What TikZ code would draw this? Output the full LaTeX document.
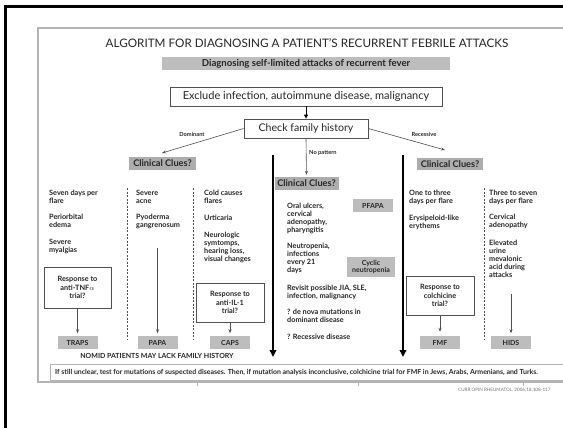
\documentclass[tikz,border=0pt]{standalone}
\usepackage{fontspec}
\setmainfont{Lato}
\usetikzlibrary{arrows.meta}
\definecolor{ink}{HTML}{262626}
\definecolor{boxgray}{HTML}{BDBDBD}
\definecolor{cluegray}{HTML}{ADADAD}
\definecolor{linegray}{HTML}{505050}
\definecolor{framegray}{HTML}{B4B4B4}
\begin{document}
\begin{tikzpicture}[x=1pt,y=-1pt,
  txt/.style={font=\fontsize{7.3}{8}\selectfont\bfseries, text=ink, align=left, anchor=north west, inner sep=0pt,
    execute at begin node={\rule{0pt}{5.5pt}}},
  gbox/.style={fill=boxgray, text=ink, font=\fontsize{7}{7.8}\selectfont\bfseries, inner sep=0pt, align=center},
  cluebox/.style={fill=cluegray, text=ink, font=\fontsize{9.2}{10}\selectfont\bfseries, inner sep=0pt},
  respbox/.style={draw=linegray, line width=0.7pt, fill=white, text=ink, font=\fontsize{7.3}{8.4}\selectfont\bfseries, inner sep=0pt, align=center},
  mainbox/.style={draw=linegray, line width=0.8pt, fill=white, text=ink, font=\fontsize{11}{12}\selectfont, inner sep=0pt},
  lbl/.style={font=\fontsize{5.7}{6.5}\selectfont\bfseries, text=ink, inner sep=0pt},
  thinarrow/.style={draw=linegray, line width=0.6pt, -{Stealth[length=4pt,width=3pt]}},
  bigarrow/.style={draw=black, line width=2.4pt, -{Triangle[length=7pt,width=6.5pt]}},
  dashline/.style={draw=linegray, line width=0.5pt, dash pattern=on 2pt off 1.5pt}
]
\useasboundingbox (0,0) rectangle (563,428);
\clip (0,0) rectangle (563,428);
\fill[white] (0,0) rectangle (563,428);

% outer frame and panel
\draw[black, line width=3pt] (5,440) -- (5,7) -- (600,7);
\draw[framegray, line width=1.2pt] (38,28) rectangle (620,382);
\foreach \tx in {197,358,523} \draw[framegray, line width=0.6pt] (\tx,382) -- (\tx,386);

% title
\node[font=\fontsize{11.7}{13}\selectfont, text=ink, inner sep=0pt] (title) at (307,43)
  {ALGORITM FOR DIAGNOSING A PATIENT’S RECURRENT FEBRILE ATTACKS};

\node[gbox, font=\fontsize{9.6}{10}\selectfont\bfseries, minimum width=288, minimum height=13] (diag) at (306,63.5)
  {Diagnosing self-limited attacks of recurrent fever};

\node[mainbox, minimum width=272, minimum height=19] (excl) at (306,96.5)
  {Exclude infection, autoimmune disease, malignancy};
\node[mainbox, font=\fontsize{10.6}{11}\selectfont, minimum width=124, minimum height=19] (check) at (306,128.5)
  {Check family history};
\draw[black, line width=1pt, -{Triangle[length=4pt,width=4pt]}] (excl.south) -- (check.north);

% clinical clue boxes
\node[cluebox, minimum width=67, minimum height=13] (clueL) at (162.5,163.5) {Clinical Clues?};
\node[cluebox, minimum width=64, minimum height=13] (clueM) at (306.5,183.5) {Clinical Clues?};
\node[cluebox, minimum width=66, minimum height=12] (clueR) at (450,164) {Clinical Clues?};

\coordinate (domEnd) at (162,153);
\coordinate (recEnd) at (445,150);
\draw[thinarrow] (check.west) -- (domEnd);
\draw[thinarrow] (check.east) -- (recEnd);
\draw[thinarrow, shorten >=2pt] (check.south) -- (clueM.north);
\node[lbl] (dom) at (192,134) {Dominant};
\node[lbl] (rec) at (424,134) {Recessive};
\node[lbl, anchor=west] (nopat) at (309,153) {No pattern};

% thick arrows
\coordinate (thA) at (273,155); \coordinate (thAe) at (273,357);
\coordinate (thB) at (403,155); \coordinate (thBe) at (403,357);
\draw[bigarrow] (thA) -- (thAe);
\draw[bigarrow] (thB) -- (thBe);

% dashed separators
\coordinate (d1a) at (127,188); \coordinate (d1b) at (127,339);
\coordinate (d2a) at (193,188); \coordinate (d2b) at (193,339);
\coordinate (d3a) at (484,188); \coordinate (d3b) at (484,339);
\draw[dashline] (d1a) -- (d1b);
\draw[dashline] (d2a) -- (d2b);
\draw[dashline] (d3a) -- (d3b);

% column 1 (dominant)  (first baseline = y + 5.5)
\node[txt] (c1a) at (49,189.5) {Seven days per\\flare};
\node[txt] (c1b) at (49,214) {Periorbital\\edema};
\node[txt] (c1c) at (49,238.5) {Severe\\myalgias};
% column 2
\node[txt] (c2a) at (136,189.5) {Severe\\acne};
\node[txt] (c2b) at (136,214) {Pyoderma\\gangrenosum};
% column 3
\node[txt] (c3a) at (204,189.5) {Cold causes\\flares};
\node[txt] (c3b) at (204,214.5) {Urticaria};
\node[txt] (c3c) at (204,231.5) {Neurologic\\symtomps,\\hearing loss,\\visual changes};

% middle column
\node[txt] (m1) at (287,202.5) {Oral ulcers,\\cervical\\adenopathy,\\pharyngitis};
\node[txt] (m2) at (287,242.5) {Neutropenia,\\infections\\every 21\\days};
\node[txt] (m3) at (287,284.5) {Revisit possible JIA, SLE,\\infection, malignancy};
\node[txt] (m4) at (287,308.5) {? de nova mutations in\\dominant disease};
\node[txt] (m5) at (287,333.5) {? Recessive disease};
\node[gbox, minimum width=40, minimum height=13] (pfapa) at (373,205.5) {PFAPA};
\node[gbox, minimum width=48, minimum height=20] (cyclic) at (371,267) {Cyclic\\neutropenia};

% right columns
\node[txt] (r1a) at (409,189.5) {One to three\\days per flare};
\node[txt] (r1b) at (409,214.5) {Erysipeloid-like\\erythems};
\node[txt] (r2a) at (489,189.5) {Three to seven\\days per flare};
\node[txt] (r2b) at (489,214) {Cervical\\adenopathy};
\node[txt] (r2c) at (489,239.5) {Elevated\\urine\\mevalonic\\acid during\\attacks};

% response boxes
\node[respbox, minimum width=67, minimum height=41] (tnf) at (77.5,287.5) {Response to\\anti-TNF$\alpha$\\trial?};
\node[respbox, minimum width=68, minimum height=39] (il1) at (230,302.5) {Response to\\anti-IL-1\\trial?};
\node[respbox, minimum width=68, minimum height=39] (colch) at (440,295.5) {Response to\\colchicine\\trial?};

% diagnosis boxes
\node[gbox, minimum width=40, minimum height=13] (traps) at (77.5,342.5) {TRAPS};
\node[gbox, minimum width=40, minimum height=13] (papa) at (157.5,342.5) {PAPA};
\node[gbox, minimum width=40, minimum height=13] (caps) at (230,342.5) {CAPS};
\node[gbox, minimum width=40, minimum height=13] (fmf) at (440,342.5) {FMF};
\node[gbox, minimum width=40, minimum height=13] (hids) at (511,342.5) {HIDS};

\coordinate (papaStart) at (157.5,248);
\coordinate (hidsStart) at (511,294);
\draw[thinarrow, shorten >=2.5pt] (tnf.south) -- (traps.north);
\draw[thinarrow, shorten >=2.5pt] (papaStart) -- (papa.north);
\draw[thinarrow, shorten >=2.5pt] (il1.south) -- (caps.north);
\draw[thinarrow, shorten >=4pt] (colch.south) -- (fmf.north);
\draw[thinarrow, shorten >=2.5pt] (hidsStart) -- (hids.north);

\node[font=\fontsize{7}{8}\selectfont\bfseries, text=ink, inner sep=0pt] (nomid) at (157,355.5)
  {NOMID PATIENTS MAY LACK FAMILY HISTORY};

% bottom note
\draw[framegray, line width=0.8pt] (50,364) rectangle (620,380);
\node[txt, font=\fontsize{6.95}{8}\selectfont\bfseries, anchor=base west, execute at begin node={}] (note) at (55,374.5)
  {If still unclear, test for mutations of suspected diseases. Then, if mutation analysis inconclusive, colchicine trial for FMF in Jews, Arabs, Armenians, and Turks.};

\node[font=\fontsize{4.6}{5}\selectfont, text=black!55, anchor=west, inner sep=0pt] (cite) at (458,390)
  {CURR OPIN RHEUMATOL. 2006;18:108-117};
\end{tikzpicture}
\end{document}
